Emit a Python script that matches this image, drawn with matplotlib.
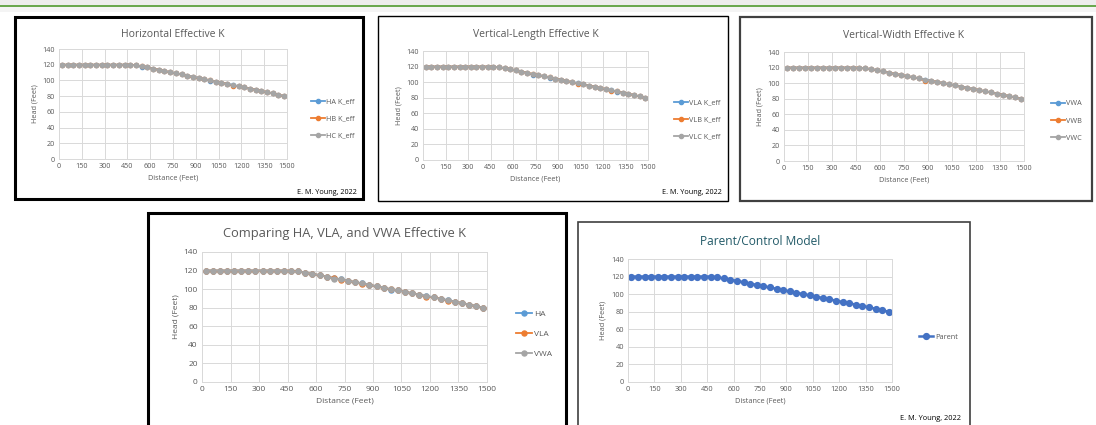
import matplotlib.pyplot as plt
from matplotlib.patches import Rectangle

W, H = 1096, 425

distance = [18.75, 56.25, 93.75, 131.25, 168.75, 206.25, 243.75, 281.25, 318.75, 356.25,
            393.75, 431.25, 468.75, 506.25, 543.75, 581.25, 618.75, 656.25, 693.75, 731.25,
            768.75, 806.25, 843.75, 881.25, 918.75, 956.25, 993.75, 1031.25, 1068.75, 1106.25,
            1143.75, 1181.25, 1218.75, 1256.25, 1293.75, 1331.25, 1368.75, 1406.25, 1443.75, 1481.25]

parent = [120, 120, 120, 120, 120, 120, 120, 120, 120, 120, 120, 120, 120,
          119.2, 117.9, 116.5, 115.0, 113.5, 112.0, 110.5, 109.0, 107.6, 106.1, 104.6,
          103.1, 101.6, 100.1, 98.6, 97.1, 95.6, 94.1, 92.6, 91.1, 89.6, 88.1, 86.6,
          85.0, 83.4, 81.7, 80.0]

ha = [120, 120, 120, 120, 120, 120, 120, 120, 120, 120, 120, 120, 120,
      119.2, 117.0, 116.5, 115.0, 113.5, 112.0, 110.5, 109.0, 107.6, 106.1, 104.6,
      103.1, 101.6, 99.3, 98.6, 97.1, 95.6, 94.1, 92.6, 91.1, 89.6, 88.1, 86.6,
      85.0, 83.4, 81.7, 80.0]
hb = [120, 120, 120, 120, 120, 120, 120, 120, 120, 120, 120, 120, 120,
      119.2, 117.9, 116.5, 115.0, 113.5, 112.0, 110.5, 109.0, 107.6, 106.1, 103.8,
      103.1, 101.6, 100.1, 98.6, 97.1, 95.6, 93.4, 92.6, 91.1, 89.6, 88.1, 86.6,
      85.0, 83.4, 81.7, 80.0]
hc = parent

vla = [120, 120, 120, 120, 120, 120, 120, 120, 120, 120, 120, 120, 120,
       119.2, 117.9, 116.5, 115.0, 113.5, 112.0, 109.8, 109.0, 107.6, 105.4, 104.6,
       103.1, 101.0, 100.1, 98.6, 97.1, 95.6, 94.1, 91.9, 91.1, 89.6, 87.4, 86.6,
       85.0, 83.4, 81.7, 80.0]
vlb = [120, 120, 120, 120, 120, 120, 120, 120, 120, 120, 120, 120, 120,
       119.2, 117.9, 116.5, 115.0, 113.5, 112.0, 110.5, 109.0, 107.6, 106.1, 104.6,
       103.1, 101.6, 100.1, 97.9, 97.1, 95.6, 94.1, 92.6, 91.1, 88.9, 88.1, 86.6,
       85.0, 83.4, 81.7, 80.0]
vlc = parent

vwa = [120, 120, 120, 120, 120, 120, 120, 120, 120, 120, 120, 120, 119.2,
       119.2, 117.9, 116.5, 115.0, 113.5, 111.3, 110.5, 109.0, 107.6, 106.1, 104.6,
       103.1, 101.6, 100.1, 98.6, 97.1, 95.6, 94.1, 92.6, 91.1, 89.6, 88.1, 86.6,
       85.0, 83.4, 81.7, 80.0]
vwb = [120, 120, 120, 120, 120, 120, 120, 120, 120, 120, 120, 120, 120,
       119.2, 117.9, 116.5, 115.0, 113.5, 112.0, 110.5, 109.0, 107.6, 106.1, 103.3,
       103.1, 101.6, 100.1, 98.6, 97.1, 95.6, 93.5, 92.6, 91.1, 89.6, 88.1, 86.6,
       85.0, 83.4, 81.7, 80.0]
vwc = parent

x_ticks = [0, 150, 300, 450, 600, 750, 900, 1050, 1200, 1350, 1500]
y_ticks = [0, 20, 40, 60, 80, 100, 120, 140]

BLUE, ORANGE, GRAY = "#5B9BD5", "#ED7D31", "#A5A5A5"
TEXT = "#595959"

plt.rcParams["font.family"] = ["Open Sans", "DejaVu Sans"]

fig = plt.figure(figsize=(W / 100, H / 100), dpi=100)


def fbox(l, t, r, b):
    return [l / W, 1 - b / H, (r - l) / W, (b - t) / H]


# slide header: grey strip with a green rule
fig.patches.append(Rectangle((0, 1 - 5 / H), 1, 5 / H, transform=fig.transFigure,
                             facecolor="#EDEDED", edgecolor="none", zorder=0))
fig.patches.append(Rectangle((0, 1 - 7 / H), 1, 2 / H, transform=fig.transFigure,
                             facecolor="#6AA84F", edgecolor="none", zorder=1))
fig.patches.append(Rectangle((0, 1 - 12 / H), 1, 5 / H, transform=fig.transFigure,
                             facecolor="#F4F4F4", edgecolor="none", zorder=0))


def panel(frame, plot, title, series, legend_xy, tsize, fsize, msize, lw_frame,
          frame_color="black", title_color=TEXT, author=None, leg_gap=1.6):
    l, t, r, b = frame
    fig.patches.append(Rectangle((l / W, 1 - b / H), (r - l) / W, (b - t) / H,
                                 transform=fig.transFigure, facecolor="white",
                                 edgecolor=frame_color, linewidth=lw_frame, zorder=2))
    ax = fig.add_axes(fbox(*plot))
    ax.set_zorder(3)
    for name, vals, color in series:
        ax.plot(distance, vals, color=color, marker="o", markersize=msize,
                linewidth=1.3 if msize < 4 else 1.8, label=name)
    ax.set_xlim(0, 1500)
    ax.set_ylim(0, 140)
    ax.set_xticks(x_ticks)
    ax.set_yticks(y_ticks)
    ax.grid(True, color="#D9D9D9", linewidth=0.7)
    ax.set_axisbelow(True)
    for s in ax.spines.values():
        s.set_color("#D9D9D9")
        s.set_linewidth(0.7)
    ax.tick_params(length=0, labelsize=fsize, labelcolor=TEXT, pad=3)
    ax.set_xlabel("Distance (Feet)", fontsize=fsize, color=TEXT, labelpad=3)
    ax.set_ylabel("Head (Feet)", fontsize=fsize, color=TEXT, labelpad=3)
    ax.set_title(title, fontsize=tsize, color=title_color, pad=(plot[1] - t) * 0.28)
    fig.legend(*ax.get_legend_handles_labels(), loc="center left",
               bbox_to_anchor=(legend_xy[0] / W, 1 - legend_xy[1] / H),
               bbox_transform=fig.transFigure, frameon=False, fontsize=fsize,
               handlelength=2.0, handletextpad=0.2, labelspacing=leg_gap,
               labelcolor=TEXT, markerscale=1.0)
    if author:
        fig.text(author[0] / W, 1 - author[1] / H, "E. M. Young, 2022", ha="right",
                 va="center", fontsize=fsize, color="black", zorder=4)
    return ax


panel((15, 17, 363, 199), (59, 49, 287, 159), "Horizontal Effective K",
      [("HA K_eff", ha, BLUE), ("HB K_eff", hb, ORANGE), ("HC K_eff", hc, GRAY)],
      (304, 119), 7.5, 5.2, 3.0, 2.2, author=(357, 192), leg_gap=1.4)

panel((378, 16, 728, 201), (423, 51, 648, 160), "Vertical-Length Effective K",
      [("VLA K_eff", vla, BLUE), ("VLB K_eff", vlb, ORANGE), ("VLC K_eff", vlc, GRAY)],
      (667, 120), 7.5, 5.2, 3.0, 1.0, author=(722, 192), leg_gap=1.4)

panel((740, 17, 1092, 201), (784, 52, 1024, 161), "Vertical-Width Effective K",
      [("VWA", vwa, BLUE), ("VWB", vwb, ORANGE), ("VWC", vwc, GRAY)],
      (1044, 121), 7.5, 5.2, 3.0, 1.6, frame_color="#404040", leg_gap=1.4)

panel((148, 213, 566, 440), (202, 252, 487, 382), "Comparing HA, VLA, and VWA Effective K",
      [("HA", ha, BLUE), ("VLA", vla, ORANGE), ("VWA", vwa, GRAY)],
      (508, 334), 9.3, 6, 3.6, 2.2, leg_gap=1.5)

panel((578, 222, 970, 440), (628, 259, 892, 382), "Parent/Control Model",
      [("Parent", parent, "#4472C4")],
      (912, 337), 8.6, 5.3, 4.2, 1.2, frame_color="#404040", title_color="#215967",
      author=(961, 418))

fig.savefig("out.png", dpi=100)
